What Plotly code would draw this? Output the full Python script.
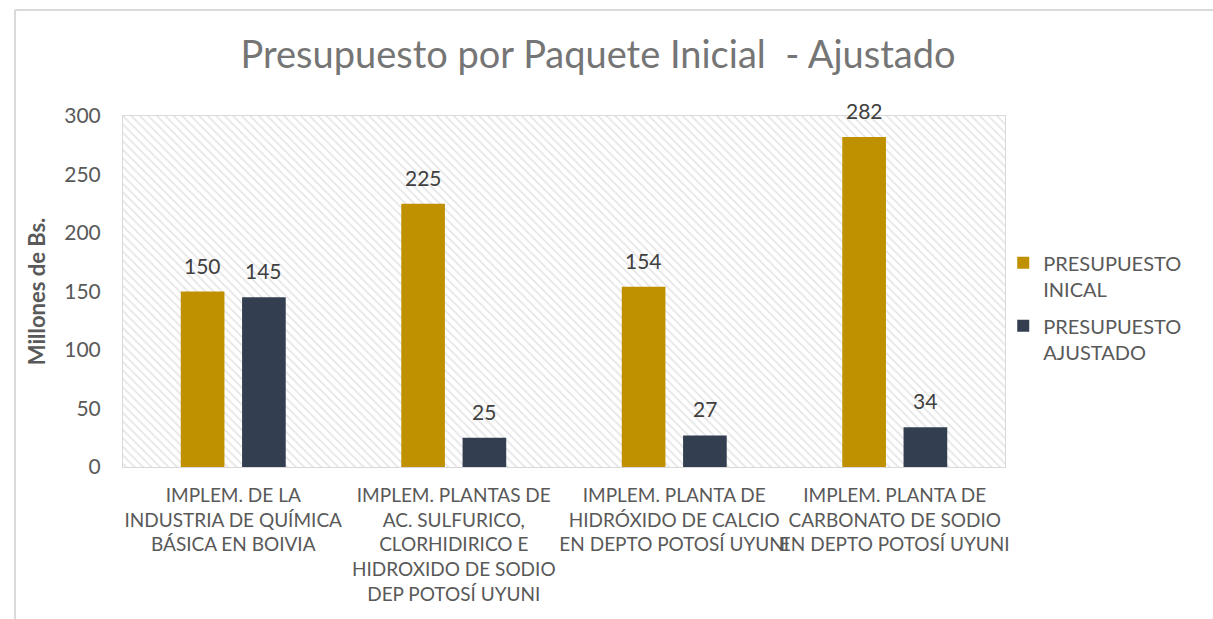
import plotly.graph_objects as go

# Data
categories = [
    "IMPLEM. DE LA<br>INDUSTRIA DE QUÍMICA<br>BÁSICA EN BOIVIA",
    "IMPLEM. PLANTAS DE<br>AC. SULFURICO,<br>CLORHIDIRICO E<br>HIDROXIDO DE SODIO<br>DEP POTOSÍ UYUNI",
    "IMPLEM. PLANTA DE<br>HIDRÓXIDO DE CALCIO<br>EN DEPTO POTOSÍ UYUNI",
    "IMPLEM. PLANTA DE<br>CARBONATO DE SODIO<br>EN DEPTO POTOSÍ UYUNI",
]
presupuesto_inicial = [150, 225, 154, 282]
presupuesto_ajustado = [145, 25, 27, 34]
y_ticks = [0, 50, 100, 150, 200, 250, 300]

FONT = "Lato"
TXT = "#595959"
GRID = "#d9d9d9"

x_pos = list(range(len(categories)))
bar_w = 0.198
series = [
    ("PRESUPUESTO<br>INICAL", presupuesto_inicial, "#BF9000", -0.238),
    ("PRESUPUESTO<br>AJUSTADO", presupuesto_ajustado, "#333F50", 0.04),
]

fig = go.Figure()

# hatched plot-area background
fig.add_trace(go.Bar(
    x=[(len(categories) - 1) / 2], y=[max(y_ticks)], width=[len(categories)],
    marker=dict(color="white", line=dict(width=0),
                pattern=dict(shape="\\", fgcolor="#cccccc", bgcolor="white",
                             size=6, solidity=0.3)),
    hoverinfo="skip", showlegend=False,
))

for k, (name, vals, color, off) in enumerate(series):
    fig.add_trace(go.Bar(
        name=name, x=x_pos, y=vals, offset=off, width=bar_w,
        legendgroup=f"g{k}",
        marker=dict(color=color, line=dict(width=0)),
    ))
    # value labels above each bar
    for xi, v in zip(x_pos, vals):
        fig.add_annotation(
            x=xi + off + bar_w / 2, y=v, text=str(v), showarrow=False,
            xanchor="center", yanchor="bottom", yshift=12,
            font=dict(family=FONT, size=21, color="#404040"),
        )

fig.update_layout(
    width=1213, height=619,
    margin=dict(l=123, r=208, t=116, b=152),
    paper_bgcolor="white", plot_bgcolor="white",
    barmode="overlay",
    font=dict(family=FONT, color=TXT),
    title=dict(text="Presupuesto por Paquete Inicial  - Ajustado",
               x=0.493, xanchor="center", y=0.911, yanchor="middle",
               font=dict(family=FONT, size=38, color="#757575")),
    showlegend=True,
    legend=dict(x=0.998, xanchor="left", y=0.455, yanchor="middle",
                valign="top", font=dict(family=FONT, size=20, color=TXT),
                bgcolor="rgba(0,0,0,0)",
                tracegroupgap=8, traceorder="grouped",
                itemwidth=30),
    xaxis=dict(
        range=[-0.5, len(categories) - 0.5],
        tickvals=x_pos, ticktext=categories, tickangle=0, automargin=False,
        tickfont=dict(family=FONT, size=19, color=TXT),
        showgrid=False, zeroline=False,
        showline=True, linecolor=GRID, linewidth=1, mirror=True,
        ticks="outside", ticklen=11, tickcolor="rgba(0,0,0,0)",
        minor=dict(tickvals=[0.5, 1.5, 2.5], showgrid=True,
                   gridcolor=GRID, gridwidth=1.5, ticks=""),
    ),
    yaxis=dict(
        range=[0, 300], tickvals=y_ticks, automargin=False,
        tickfont=dict(family=FONT, size=21, color=TXT),
        showgrid=True, gridcolor=GRID, gridwidth=1.5,
        zeroline=False,
        showline=True, linecolor=GRID, linewidth=1, mirror=True,
        ticks="outside", ticklen=17, tickcolor="rgba(0,0,0,0)",
        title=dict(text="<b>Millones de Bs.</b>", standoff=12,
                   font=dict(family=FONT, size=22, color=TXT)),
    ),
)

# outer chart frame (left and top edges)
fig.add_shape(type="line", xref="paper", yref="paper",
              x0=-0.1224, x1=-0.1224, y0=-0.5, y1=1.302,
              line=dict(color=GRID, width=2))
fig.add_shape(type="line", xref="paper", yref="paper",
              x0=-0.1224, x1=1.4, y0=1.302, y1=1.302,
              line=dict(color=GRID, width=2))

fig.write_html("out.html")
